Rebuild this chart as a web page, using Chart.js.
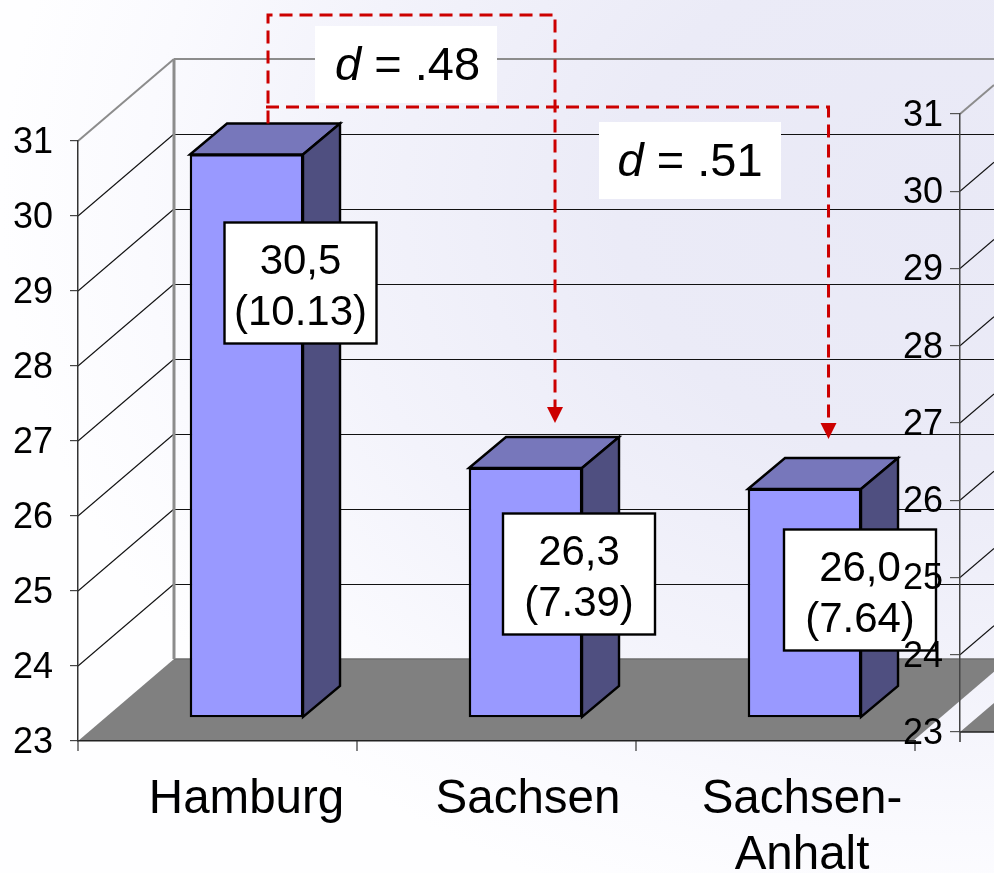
<!DOCTYPE html>
<html><head><meta charset="utf-8">
<style>
html,body{margin:0;padding:0;width:994px;height:873px;overflow:hidden;background:radial-gradient(ellipse 950px 750px at 950px 200px,#e9e9f6 0%,#ebebf7 35%,#f3f3fb 65%,#fafafe 85%,#fefeff 100%);}
canvas{position:absolute;left:0;top:0;}
</style>
<script src="https://cdn.jsdelivr.net/npm/chart.js@4"></script>
</head><body>
<div style="position:absolute;left:0;top:0;width:994px;height:873px"><canvas id="main" width="994" height="873"></canvas></div>
<div style="position:absolute;left:0;top:0;width:994px;height:873px"><canvas id="next" width="994" height="873"></canvas></div>
<script>
const categories = ['Hamburg', 'Sachsen', ['Sachsen-', 'Anhalt']];
const barValues = [30.5, 26.32, 26.04];
const meanLabels = ['30,5', '26,3', '26,0'];
const sdLabels = ['(10.13)', '(7.39)', '(7.64)'];
const effectLabels = ['.48', '.51'];
const yMin = 23, yMax = 31;

const FONT = '"Liberation Sans", Arial, sans-serif';
const DX = 96, DY = 82, BAR_DX = 37, BAR_DY = 31;
const WALL = '#8c8c8c', RED = '#cc0000', LINE = '#111';

function seg(c, x1, y1, x2, y2, color, w) {
  c.save(); c.strokeStyle = color; c.lineWidth = w; c.beginPath(); c.moveTo(x1, y1); c.lineTo(x2, y2); c.stroke(); c.restore();
}
function poly(c, pts, fill, stroke) {
  c.save(); c.beginPath(); pts.forEach((p, i) => i ? c.lineTo(p[0], p[1]) : c.moveTo(p[0], p[1])); c.closePath();
  c.fillStyle = fill; c.fill();
  if (stroke) { c.strokeStyle = stroke; c.lineWidth = 2.4; c.lineJoin = 'miter'; c.stroke(); }
  c.restore();
}
function whiteBox(c, x, y, w, h, border) {
  c.save(); c.fillStyle = '#fff'; c.fillRect(x, y, w, h);
  if (border) { c.strokeStyle = '#000'; c.lineWidth = 2.4; c.strokeRect(x, y, w, h); }
  c.restore();
}
function dashed(c, pts) {
  c.save(); c.strokeStyle = RED; c.lineWidth = 3; c.setLineDash([13, 7]);
  c.beginPath(); pts.forEach((p, i) => i ? c.lineTo(p[0], p[1]) : c.moveTo(p[0], p[1])); c.stroke(); c.restore();
}
function arrow(c, x, tip) {
  poly(c, [[x - 8, tip - 16], [x + 8, tip - 16], [x, tip]], RED);
}
function effect(c, cx, cy, val) {
  c.save(); c.fillStyle = '#000'; c.textBaseline = 'middle'; c.textAlign = 'left';
  c.font = 'italic 47px ' + FONT; const a = c.measureText('d').width;
  c.font = '47px ' + FONT; const rest = ' = ' + val; const b = c.measureText(rest).width;
  let x = cx - (a + b) / 2;
  c.font = 'italic 47px ' + FONT; c.fillText('d', x, cy);
  c.font = '47px ' + FONT; c.fillText(rest, x + a, cy);
  c.restore();
}
function nudgeLabels(chart) {
  chart.scales.y.getLabelItems(chart.chartArea).forEach(it => { it.options.translation[1] += 2; });
}
const crisp = p => Math.round(p) + 0.5;
const labelShift = [0, 2.5, -2.5];

const room = {
  id: 'room',
  beforeDraw(chart) {
    nudgeLabels(chart);
    chart.scales.x.getLabelItems(chart.chartArea).forEach((it, i) => { it.options.translation[0] += labelShift[i]; });
    const c = chart.ctx, y = chart.scales.y, a = chart.chartArea;
    const L = a.left, B = y.getPixelForValue(yMin), T = y.getPixelForValue(yMax), R = a.right - 2;
    const W = chart.width;
    poly(c, [[L, B], [L + DX, B - DY], [R + DX, B - DY], [R, B]], '#808080');
    seg(c, L + DX, B - DY, W, B - DY, '#6e6e6e', 1.5);
    for (let v = yMin + 1; v < yMax; v++) {
      const p = y.getPixelForValue(v);
      seg(c, L + DX, crisp(p - DY), W, crisp(p - DY), LINE, 1.1);
      seg(c, L, p, L + DX, p - DY, LINE, 1.1);
    }
    seg(c, L + DX, T - DY, W, T - DY, WALL, 2);
    seg(c, L, T, L + DX, T - DY, WALL, 2);
    seg(c, L + DX, T - DY, L + DX, B - DY, WALL, 3);
  },
  beforeDatasetsDraw(chart) {
    const c = chart.ctx, a = chart.chartArea, B = a.bottom;
    const step = (a.right - a.left) / categories.length;
    for (let i = 0; i <= categories.length; i++) {
      seg(c, a.left + i * step, B, a.left + i * step, B + 10, '#333', 1.2);
    }
    chart.getDatasetMeta(0).data.forEach(b => {
      const l = b.x - b.width / 2, r = b.x + b.width / 2, t = b.y, u = b.base;
      poly(c, [[l, t], [l + BAR_DX, t - BAR_DY], [r + BAR_DX, t - BAR_DY], [r, t]], '#7777bb', '#000');
      poly(c, [[r, t], [r + BAR_DX, t - BAR_DY], [r + BAR_DX, u - BAR_DY], [r, u]], '#4f4f80', '#000');
    });
  },
  afterDatasetsDraw(chart) {
    const c = chart.ctx, bars = chart.getDatasetMeta(0).data;
    const sx = bars[0].x + 21.5, sy = bars[0].y - BAR_DY;
    const x1 = bars[1].x + 29.5, x2 = bars[2].x + 24;
    const tip1 = bars[1].y - BAR_DY - 14, tip2 = bars[2].y - BAR_DY - 19;
    dashed(c, [[sx, sy], [sx, 15], [x1, 15], [x1, tip1 - 16]]);
    dashed(c, [[sx - 2, 107], [x2, 107], [x2, tip2 - 16]]);
    arrow(c, x1, tip1); arrow(c, x2, tip2);
    whiteBox(c, 315, 26, 182, 77);
    effect(c, 407.5, 67, effectLabels[0]);
    whiteBox(c, 599, 122, 182, 77);
    effect(c, 690, 163, effectLabels[1]);
    const boxes = [[300.5, 283], [579, 574], [860, 590]];
    boxes.forEach((b, i) => {
      whiteBox(c, b[0] - 76, b[1] - 60.5, 152, 121, true);
      c.save(); c.fillStyle = '#000'; c.font = '42px ' + FONT; c.textAlign = 'center'; c.textBaseline = 'middle';
      c.fillText(meanLabels[i], b[0], b[1] - 21);
      c.fillText(sdLabels[i], b[0], b[1] + 30);
      c.restore();
    });
  }
};

new Chart(document.getElementById('main'), {
  type: 'bar',
  data: { datasets: [{
    data: barValues.map((v, i) => ({ x: i, y: v })),
    yAxisID: 'yBar', base: yMin, barThickness: 113,
    backgroundColor: '#9999ff', borderColor: '#000', borderWidth: 2.4, borderSkipped: false
  }] },
  options: {
    responsive: false, animation: false, events: [],
    layout: { padding: { top: 141, right: 79, left: 0, bottom: 0 } },
    plugins: { legend: { display: false }, title: { display: false }, tooltip: { enabled: false } },
    scales: {
      x: {
        type: 'linear', min: -0.604, max: 2.396, offset: false,
        afterBuildTicks: s => { s.ticks = categories.map((_, i) => ({ value: i })); },
        afterFit: s => { s.height = 132; },
        grid: { display: false, offset: false },
        border: { display: true, color: '#222', width: 1.5 },
        ticks: { autoSkip: false, maxRotation: 0, minRotation: 0, padding: 23, color: '#000',
          font: { family: FONT, size: 47.5, lineHeight: 1.18 }, callback: v => categories[v] }
      },
      y: {
        min: yMin, max: yMax,
        afterFit: s => { s.width = 78; },
        grid: { drawOnChartArea: false, tickLength: 8, color: '#444', lineWidth: 1.2 },
        border: { display: true, color: '#333', width: 1.5 },
        ticks: { stepSize: 1, padding: 17, color: '#000', font: { family: FONT, size: 36 } }
      },
      yBar: { display: false, min: yMin - 0.32, max: yMax - 0.32 }
    }
  },
  plugins: [room]
});

const nextRoom = {
  id: 'nextRoom',
  beforeDraw(chart) {
    nudgeLabels(chart);
    const c = chart.ctx, y = chart.scales.y, a = chart.chartArea;
    const L = a.left, B = y.getPixelForValue(yMin), W = chart.width;
    const up = DY / DX * (W - L);
    poly(c, [[L, B], [W, B - up], [W, B]], '#808080');
    for (let v = yMin + 1; v <= yMax; v++) {
      const p = y.getPixelForValue(v);
      seg(c, L, p, W, p - up, v === yMax ? WALL : LINE, v === yMax ? 2 : 1.1);
    }
    seg(c, L, B, W, B, '#222', 1.5);
    seg(c, L, B, L, B + 10, '#333', 1.5);
  }
};
new Chart(document.getElementById('next'), {
  type: 'bar',
  data: { labels: [''], datasets: [{ data: [] }] },
  options: {
    responsive: false, animation: false, events: [],
    layout: { padding: { top: 114, right: 0, left: 0, bottom: 141 } },
    plugins: { legend: { display: false }, title: { display: false }, tooltip: { enabled: false } },
    scales: {
      x: { display: false },
      y: {
        min: yMin, max: yMax,
        afterFit: s => { s.width = 960; },
        grid: { drawOnChartArea: false, tickLength: 10, color: '#555', lineWidth: 1.2 },
        border: { display: true, color: '#444', width: 1.5 },
        ticks: { stepSize: 1, padding: 7, color: '#000', font: { family: FONT, size: 36 } }
      }
    }
  },
  plugins: [nextRoom]
});
</script>
</body></html>
